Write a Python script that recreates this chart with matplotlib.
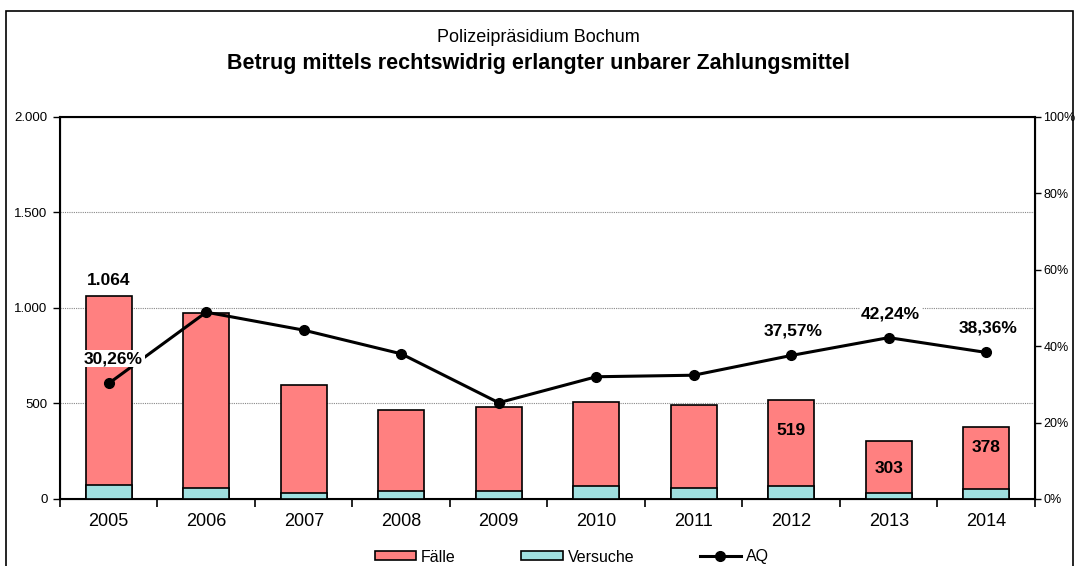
import matplotlib
matplotlib.use("Agg")
import matplotlib.pyplot as plt
from matplotlib.patches import Rectangle
from matplotlib.lines import Line2D
from matplotlib.patches import Patch
import numpy as np

plt.rcParams['font.family'] = ['Liberation Sans', 'DejaVu Sans']

# data
years = ['2005', '2006', '2007', '2008', '2009', '2010', '2011', '2012', '2013', '2014']
faelle = [1064, 972, 598, 464, 482, 506, 490, 519, 303, 378]
versuche = [75, 58, 33, 42, 42, 66, 59, 66, 33, 51]
aq = [30.26, 48.9, 44.2, 38.0, 25.2, 32.0, 32.4, 37.57, 42.24, 38.36]

# which values get a label
faelle_labels = {0: '1.064', 7: '519', 8: '303', 9: '378'}
aq_labels = {0: '30,26%', 7: '37,57%', 8: '42,24%', 9: '38,36%'}

fig = plt.figure(figsize=(10.77, 5.66), dpi=100)
ax = fig.add_axes([0.0557, 0.1184, 0.9053, 0.6749])
ax2 = ax.twinx()

x = np.arange(len(years))
ax.bar(x, faelle, width=0.47, color='#ff8080', edgecolor='black', linewidth=1.2, zorder=2)
ax.bar(x, versuche, width=0.47, color='#a0e0e0', edgecolor='black', linewidth=1.2, zorder=3)

ax.set_xlim(-0.5, len(years) - 0.5)
ax.set_ylim(0, 2000)
ax.set_yticks([0, 500, 1000, 1500, 2000])
ax.set_yticklabels(['0', '500', '1.000', '1.500', '2.000'], fontsize=9.5)
ax.set_xticks(x)
ax.set_xticklabels(years, fontsize=13)
ax.set_xticks(np.arange(-0.5, len(years), 1), minor=True)
ax.tick_params(axis='x', which='major', length=0, pad=10)
ax.tick_params(axis='x', which='minor', length=6, width=1.2, direction='out')
ax.tick_params(axis='y', length=5, width=1, pad=4)
for yv in [500, 1000, 1500]:
    ax.axhline(yv, color='#888888', linestyle=(0, (1, 1)), linewidth=0.8, zorder=1)
for s in ax.spines.values():
    s.set_linewidth(1.5)

ax2.plot(x, aq, color='black', linewidth=2.2, marker='o', markersize=7, zorder=5)
ax2.set_ylim(0, 100)
ax2.set_yticks([0, 20, 40, 60, 80, 100])
ax2.set_yticklabels(['0%', '20%', '40%', '60%', '80%', '100%'], fontsize=9)
ax2.tick_params(axis='y', length=4, width=1, pad=2)
ax2.set_xlim(-0.5, len(years) - 0.5)

for i, t in faelle_labels.items():
    if i == 0:
        ax.text(x[i], faelle[i] + 40, t, ha='center', va='bottom', fontsize=12.5, fontweight='bold', zorder=6)
    else:
        ax.text(x[i], faelle[i] - 160 if i == 7 else faelle[i] - 145 if i == 8 else faelle[i] - 110,
                t, ha='center', va='center', fontsize=12.5, fontweight='bold', zorder=6)

for i, t in aq_labels.items():
    if i == 0:
        ax2.text(x[i] + 0.05, aq[i] + 6.5, t, ha='center', va='center', fontsize=12.5, fontweight='bold',
                 bbox=dict(facecolor='white', edgecolor='none', pad=1), zorder=6)
    else:
        ax2.text(x[i] + 0.02, aq[i] + 6.3, t, ha='center', va='center', fontsize=12.5, fontweight='bold',
                 bbox=dict(facecolor='white', edgecolor='none', pad=1) if i == 8 else None, zorder=6)

fig.text(0.5, 1 - 37 / 566, 'Polizeipräsidium Bochum', ha='center', va='center', fontsize=13)
fig.text(0.5, 1 - 64 / 566, 'Betrug mittels rechtswidrig erlangter unbarer Zahlungsmittel',
         ha='center', va='center', fontsize=15.5, fontweight='bold')

handles = [Patch(facecolor='#ff8080', edgecolor='black', linewidth=1.2),
           Patch(facecolor='#a0e0e0', edgecolor='black', linewidth=1.2),
           Line2D([0], [0], color='black', linewidth=2.2, marker='o', markersize=7)]
fig.legend(handles, ['Fälle', 'Versuche', 'AQ'], loc='center', bbox_to_anchor=(0.531, 1 - 557 / 566),
           ncol=3, frameon=False, fontsize=11.5, handlelength=2.6, handleheight=0.5,
           columnspacing=4.1, handletextpad=0.3)

# outer frame
fig.patches.append(Rectangle((6 / 1077, -0.1), (1073 - 6) / 1077, 1.1 - 11 / 566, transform=fig.transFigure,
                             fill=False, edgecolor='black', linewidth=1.2))

fig.savefig('out.png', dpi=100)
